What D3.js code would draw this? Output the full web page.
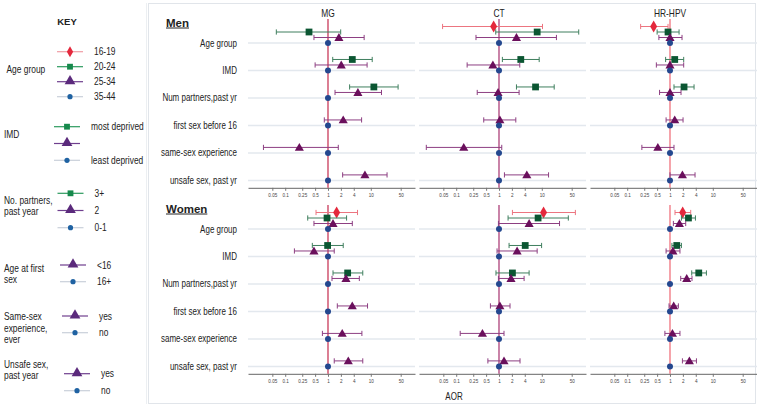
<!DOCTYPE html>
<html>
<head>
<meta charset="utf-8">
<script src="https://cdn.jsdelivr.net/npm/d3@7"></script>
<style>
  body { margin: 0; background: #fff; }
  text { font-family: 'Liberation Sans', Arial, sans-serif; fill: #222; }
</style>
</head>
<body>
<div id="chart"></div>
<script>
// Panels, sexes and row labels
const panels = ["MG", "CT", "HR-HPV"];
const sexes = ["Men", "Women"];
const rowLabels = ["Age group", "IMD", "Num partners,past yr", "first sex before 16", "same-sex experience", "unsafe sex, past yr"];
const tickValues = [0.05, 0.1, 0.25, 0.5, 1, 2, 4, 10, 50];
const tickLabels = ["0.05", "0.1", "0.25", "0.5", "1", "2", "4", "10", "50"];

// Estimates: [row, marker, AOR, lower CI, upper CI]
// marker: d = 16-19, s = 20-24 / most deprived / 3+, t = 25-34 / middle / 2 / yes
const mgMen = [
  [0, "s", 0.36, 0.062, 1.98], [0, "t", 1.8, 0.47, 7.0],
  [1, "s", 3.7, 1.29, 10.8], [1, "t", 2.04, 0.5, 8.2],
  [2, "s", 11.8, 3.2, 43.5], [2, "t", 5.0, 1.46, 17.8],
  [3, "t", 2.27, 0.82, 6.1],
  [4, "t", 0.214, 0.031, 1.74],
  [5, "t", 7.3, 2.2, 24]
];
const mgWomen = [
  [0, "d", 1.59, 0.525, 4.9], [0, "s", 0.95, 0.336, 2.72], [0, "t", 1.31, 0.47, 3.7],
  [1, "s", 0.98, 0.43, 2.27], [1, "t", 0.47, 0.164, 1.4],
  [2, "s", 2.88, 1.31, 6.5], [2, "t", 2.63, 1.24, 5.4],
  [3, "t", 3.69, 1.65, 8.4],
  [4, "t", 2.15, 0.74, 6.2],
  [5, "t", 2.98, 1.4, 6.5]
];
const ctMen = [
  [0, "d", 0.75, 0.048, 10.4], [0, "s", 7.8, 0.84, 73], [0, "t", 2.56, 0.29, 22],
  [1, "s", 3.23, 1.2, 8.7], [1, "t", 0.72, 0.18, 3.06],
  [2, "s", 7.15, 2.56, 19.5], [2, "t", 0.95, 0.31, 2.95],
  [3, "t", 1.05, 0.44, 2.47],
  [4, "t", 0.15, 0.02, 1.16],
  [5, "t", 4.47, 1.34, 14.4]
];
const ctWomen = [
  [0, "d", 11, 2.06, 61], [0, "s", 8.2, 1.63, 41.7], [0, "t", 5.06, 0.97, 26],
  [1, "s", 4.1, 1.72, 9.9], [1, "t", 2.65, 0.9, 7.8],
  [2, "s", 2.06, 0.85, 5.06], [2, "t", 1.91, 0.97, 3.86],
  [3, "t", 1.05, 0.63, 1.81],
  [4, "t", 0.41, 0.124, 1.31],
  [5, "t", 1.31, 0.55, 3.1]
];
const hpvMen = [
  [0, "d", 0.415, 0.206, 0.9], [0, "s", 0.9, 0.5, 1.63], [0, "t", 1.0, 0.55, 1.91],
  [1, "s", 1.29, 0.79, 2.09], [1, "t", 1.0, 0.48, 2.09],
  [2, "s", 2.13, 1.24, 3.65], [2, "t", 1.0, 0.57, 1.81],
  [3, "t", 1.29, 0.81, 2.02],
  [4, "t", 0.52, 0.22, 1.24],
  [5, "t", 1.95, 1.0, 3.85]
];
const hpvWomen = [
  [0, "d", 1.98, 1.31, 3.05], [0, "s", 2.7, 1.85, 3.93], [0, "t", 1.66, 1.2, 2.33],
  [1, "s", 1.44, 1.11, 1.85], [1, "t", 1.17, 0.81, 1.71],
  [2, "s", 4.7, 3.22, 7.1], [2, "t", 2.46, 1.78, 3.27],
  [3, "t", 1.22, 0.95, 1.57],
  [4, "t", 1.14, 0.76, 1.71],
  [5, "t", 2.84, 1.95, 4.15]
];
const estimates = [[mgMen, mgWomen], [ctMen, ctWomen], [hpvMen, hpvWomen]];

// Key content
const keyTitles = [["Age group"], ["IMD"], ["No. partners,", "past year"], ["Age at first", "sex"], ["Same-sex", "experience,", "ever"], ["Unsafe sex,", "past year"]];
const keyItems = [
  [["d", "16-19"], ["s", "20-24"], ["t", "25-34"], ["c", "35-44"]],
  [["s", "most deprived"], ["t", ""], ["c", "least deprived"]],
  [["s", "3+"], ["t", "2"], ["c", "0-1"]],
  [["t", "<16"], ["c", "16+"]],
  [["t", "yes"], ["c", "no"]],
  [["t", "yes"], ["c", "no"]]
];

// Styles
const markColor = { d: "#e4283c", s: "#0b5632", t: "#6a0f5c", c: "#24488f" };
const ciColor = { d: "#ec7580", s: "#3f7f5e", t: "#8d3f82" };
const keyMark = { d: "#e4283c", s: "#16894c", t: "#5b2a7c", c: "#1f62a2" };
const keyLine = { d: "#f09ca4", s: "#2c9a5e", t: "#6f3f8e", c: "#c9d0da" };
const refColor = ["#c42a4c", "#a6306e", "#ef6672"];
const markOffset = { d: -16.5, s: -11, t: -5.5, c: 0 };
const symbols = { d: d3.symbolDiamond, s: d3.symbolSquare, t: d3.symbolTriangle };
const symSize = { d: 42, s: 46, t: 36 };
const squeeze = 0.8; // the original uses a narrow typeface

const width = 757, height = 407;
const svg = d3.select("#chart").append("svg")
  .attr("width", width).attr("height", height);

// narrow text helper: position with a transform, then squeeze horizontally
function narrowText(sel, x, y) {
  return sel.attr("transform", (d, i) => "translate(" + (typeof x === "function" ? x(d, i) : x) + "," +
      (typeof y === "function" ? y(d, i) : y) + ") scale(" + squeeze + ",1)")
    .attr("dy", "0.35em");
}

// Frames
svg.append("rect").attr("x", 148.5).attr("y", 3.5).attr("width", 607).attr("height", 400)
  .attr("fill", "none").attr("stroke", "#e1e5ea");
svg.append("line").attr("x1", 146.5).attr("x2", 146.5).attr("y1", 3).attr("y2", 404)
  .attr("stroke", "#eceff2");

// Row positions
const rowY = d3.scaleLinear().domain([0, 5]).range([43, 180.4]);
const secOff = [0, 186];
const panelStep = 171, panelLeft = 248, panelWidth = 167;

const xScales = panels.map((p, i) => d3.scaleLog()
  .domain([0.0135, 108])
  .range([panelLeft + i * panelStep, panelLeft + i * panelStep + panelWidth]));

sexes.forEach((sex, si) => {
  const g = svg.append("g").attr("transform", "translate(0," + secOff[si] + ")");

  // Section title, bold and underlined
  const t = g.append("text")
    .attr("x", 166).attr("y", rowY(0) - 20.5).attr("dy", "0.35em")
    .style("font-weight", "bold").style("font-size", "11.5px")
    .text(sex);
  const tw = t.node().getComputedTextLength();
  g.append("line").attr("x1", 166).attr("x2", 166 + tw)
    .attr("y1", rowY(0) - 15).attr("y2", rowY(0) - 15)
    .attr("stroke", "#222").attr("stroke-width", 1);

  // Row labels
  narrowText(g.selectAll(".rowlab").data(rowLabels).enter().append("text"), 237, (d, i) => rowY(i))
    .attr("class", "rowlab")
    .attr("text-anchor", "end").style("font-size", "10px")
    .text(d => d);

  panels.forEach((p, pi) => {
    const x = xScales[pi];
    const pg = g.append("g");

    // Light gridlines through each row
    pg.selectAll(".grid").data(rowLabels).enter().append("line")
      .attr("x1", x.range()[0]).attr("x2", x.range()[1])
      .attr("y1", (d, i) => rowY(i)).attr("y2", (d, i) => rowY(i))
      .attr("stroke", "#e3e8ee").attr("stroke-width", 1.5);

    // Axis
    const axis = d3.axisBottom(x).tickValues(tickValues)
      .tickFormat((d, i) => tickLabels[i]).tickSizeInner(3).tickSizeOuter(0).tickPadding(3);
    const ag = pg.append("g").attr("transform", "translate(0," + (rowY(5) + 7.4) + ")").call(axis);
    ag.select(".domain").attr("stroke", "#666");
    ag.selectAll(".tick line").attr("stroke", "#777");
    ag.selectAll(".tick text").style("font-size", "4.6px").style("fill", "#444")
      .style("font-family", "'Liberation Sans', Arial, sans-serif");

    // Reference line at AOR = 1
    pg.append("line").attr("x1", x(1)).attr("x2", x(1))
      .attr("y1", rowY(0) - 24).attr("y2", rowY(5) + 7.4)
      .attr("stroke", refColor[pi]).attr("stroke-width", 1.2);

    // Panel title (top section only)
    if (si === 0) {
      narrowText(pg.append("text"), x(1), 13.5)
        .attr("text-anchor", "middle").style("font-size", "10.5px").text(p);
    }

    const data = estimates[pi][si];

    // Confidence intervals with caps
    const ci = pg.selectAll(".ci").data(data).enter().append("g")
      .attr("transform", d => "translate(0," + (rowY(d[0]) + markOffset[d[1]]) + ")");
    ci.append("line").attr("x1", d => x(d[3])).attr("x2", d => x(d[4]))
      .attr("stroke", d => ciColor[d[1]]).attr("stroke-width", 1);
    ci.append("line").attr("x1", d => x(d[3])).attr("x2", d => x(d[3]))
      .attr("y1", -2.6).attr("y2", 2.6).attr("stroke", d => ciColor[d[1]]).attr("stroke-width", 1);
    ci.append("line").attr("x1", d => x(d[4])).attr("x2", d => x(d[4]))
      .attr("y1", -2.6).attr("y2", 2.6).attr("stroke", d => ciColor[d[1]]).attr("stroke-width", 1);
    ci.append("path")
      .attr("d", d => d3.symbol().type(symbols[d[1]]).size(symSize[d[1]])())
      .attr("transform", d => "translate(" + x(d[2]) + "," + (d[1] === "t" ? 0.8 : 0) + ")")
      .attr("fill", d => markColor[d[1]]);

    // Reference category dots
    pg.selectAll(".ref").data(rowLabels).enter().append("circle")
      .attr("cx", x(1)).attr("cy", (d, i) => rowY(i)).attr("r", 3)
      .attr("fill", markColor.c);
  });
});

// x axis label
narrowText(svg.append("text"), 454, 396)
  .attr("text-anchor", "middle").style("font-size", "10px").text("AOR");

// ---- Key ----
svg.append("text").attr("x", 67).attr("y", 21.5).attr("dy", "0.35em")
  .attr("text-anchor", "middle")
  .style("font-weight", "bold").style("font-size", "9.5px").text("KEY");

// layout per group: title y, first item y, item step, marker x
const keyLayout = [
  [69, 51.7, 15, 70],
  [134, 126.7, 16.8, 67],
  [200, 193.3, 17.2, 70.5],
  [268.3, 265, 16.7, 73],
  [316.7, 316, 16.7, 75],
  [364, 373.7, 17, 77]
];

keyTitles.forEach((lines, gi) => {
  const [ty, y0, dy, mx] = keyLayout[gi];
  const kg = svg.append("g");
  narrowText(kg.selectAll(".kt").data(lines).enter().append("text"), gi === 0 ? 6.5 : 4, (d, i) => ty + i * 11.3)
    .style("font-size", "10.5px").text(d => d);

  const it = kg.selectAll(".ki").data(keyItems[gi]).enter().append("g")
    .attr("transform", (d, i) => "translate(" + mx + "," + (y0 + i * dy) + ")");
  it.append("line").attr("x1", -13).attr("x2", 13)
    .attr("stroke", d => keyLine[d[0]]).attr("stroke-width", 1.2);
  it.each(function (d) {
    const s = d3.select(this);
    if (d[0] === "c") {
      s.append("circle").attr("r", 2.6).attr("fill", keyMark.c);
    } else {
      s.append("path")
        .attr("d", d3.symbol().type(symbols[d[0]]).size(d[0] === "t" ? 50 : 34)())
        .attr("transform", d[0] === "t" ? "translate(0,-0.5)" : null)
        .attr("fill", keyMark[d[0]]);
    }
  });
  narrowText(it.append("text"), 24, 0)
    .style("font-size", "10.5px").text(d => d[1]);
});
</script>
</body>
</html>
